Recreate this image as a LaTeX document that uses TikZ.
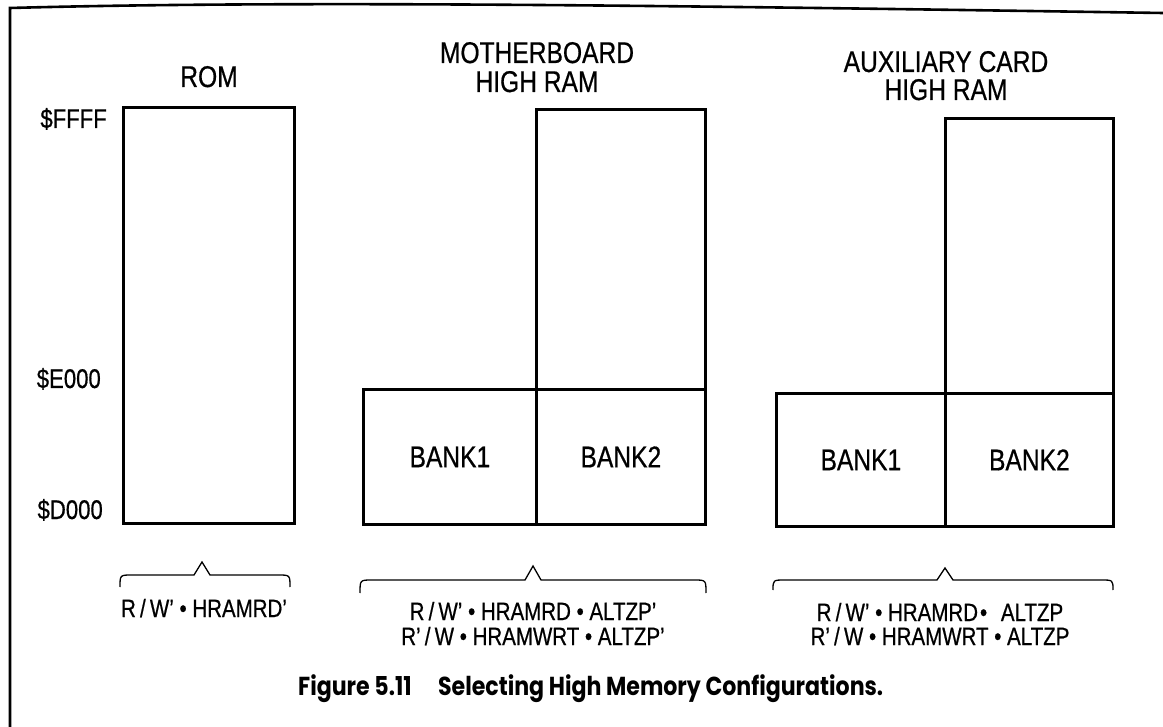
\documentclass[tikz,border=0pt]{standalone}
\usepackage{fontspec}
\setmainfont{Liberation Sans}
\newfontfamily\labfont[FakeStretch=0.82,FakeBold=0.6]{Liberation Sans}
\newfontfamily\capfont{Poppins}
\newsavebox\capbox
\newcommand{\mybrace}[6]{% x1 x2 xtip yline yend ytip
  \draw[bracestyle] (#1,#5) .. controls (#1,#4) .. (#1+12,#4) -- (#3-8,#4) -- (#3,#6) -- (#3+8,#4) -- (#2-12,#4) .. controls (#2,#4) .. (#2,#5);}
\begin{document}
\sbox\capbox{\capfont\bfseries\fontsize{26}{30}\selectfont Figure 5.11\hspace{1.2em}Selecting High Memory Configurations.}%
\pgfmathsetmacro\capscale{585/\the\wd\capbox}%
\begin{tikzpicture}[x=1pt,y=-1pt,
  box/.style={draw, line width=2.8pt, inner sep=0pt, anchor=north west, font=\labfont\fontsize{30}{30}\selectfont},
  title/.style={anchor=base, inner sep=0pt, font=\labfont\fontsize{30}{30}\selectfont},
  addr/.style={anchor=base east, inner sep=0pt, font=\labfont\fontsize{27}{27}\selectfont},
  cond/.style={anchor=base, inner sep=0pt, font=\labfont\fontsize{25}{25}\selectfont},
  bracestyle/.style={line width=1.3pt},
  frame/.style={line width=2.6pt}
]
\useasboundingbox (0,0) rectangle (1163,727);
\fill[white] (0,0) rectangle (1163,727);

% frame (cut off at right and bottom)
\draw[frame] (10,727) -- (10,8) .. controls (300,0) and (700,6) .. (1163,13);

% ROM
\node[title] (romt) at (209,87) {ROM};
\node[box, minimum width=171pt, minimum height=416pt] (rom) at (122,106) {};

% address labels
\node[addr] (affff) at (107,128) {\$FFFF};
\node[addr] (ae000) at (101,388) {\$E000};
\node[addr] (ad000) at (103,519) {\$D000};

% Motherboard high RAM
\node[title] (mbt1) at (537,63) {MOTHERBOARD};
\node[title] (mbt2) at (537,92) {HIGH RAM};
\node[box, minimum width=169pt, minimum height=280pt] (mbhi) at (535,108) {};
\node[box, minimum width=173pt, minimum height=135pt] (mbb1) at (362,388) {BANK1};
\node[box, minimum width=169pt, minimum height=135pt] (mbb2) at (535,388) {BANK2};

% Auxiliary card high RAM
\node[title] (axt1) at (946,72) {AUXILIARY CARD};
\node[title] (axt2) at (946,100) {HIGH RAM};
\node[box, minimum width=168pt, minimum height=275pt] (axhi) at (944,117) {};
\node[box, minimum width=169pt, minimum height=133pt] (axb1) at (775,392) {BANK1};
\node[box, minimum width=168pt, minimum height=133pt] (axb2) at (944,392) {BANK2};

% braces
\mybrace{120}{290}{202}{575}{587}{562}
\mybrace{360}{706}{533}{580}{593}{566}
\mybrace{773}{1113}{945}{580}{590}{568}

% conditions
\node[cond] (romc) at (204,617) {R\,/\,W’ • HRAMRD’};
\node[cond] (mbc1) at (533,620) {R\,/\,W’ • HRAMRD • ALTZP’};
\node[cond] (mbc2) at (533,645) {R’\,/\,W • HRAMWRT • ALTZP’};
\node[cond] (axc1) at (940,621) {R\,/\,W’ • HRAMRD\kern2pt•\hspace{0.55em}ALTZP};
\node[cond] (axc2) at (940,645) {R’\,/\,W • HRAMWRT • ALTZP};

% caption
\node[anchor=base west, inner sep=0pt] (cap) at (298,695) {\scalebox{\capscale}[1]{\usebox\capbox}};
\end{tikzpicture}
\end{document}
